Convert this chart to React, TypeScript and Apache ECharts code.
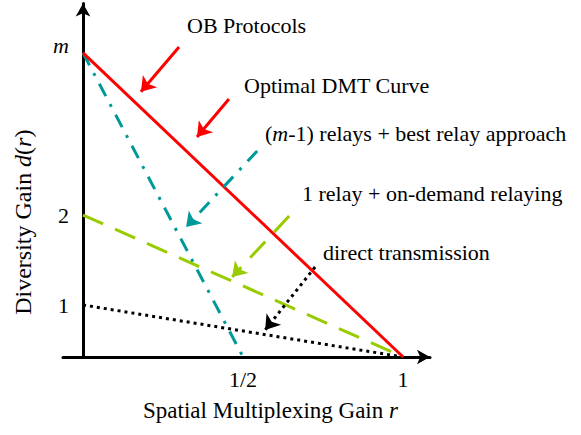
import React, { useEffect, useRef } from "react";
import * as echarts from "echarts";

// Schematic DMT diagram values (y positions of the labelled levels on the drawn scale)
const yLevelValues = [1, 2.73, 5.85];
const yLevelLabels = ["1", "2", "{mi|m}"];
const xTickValues = [0.5, 1];
const xTickLabels = ["1/2", "1"];

const M = 5.85;
const TWO = 2.73;
const ONE = 1;

const optimalCurve = [[0, M], [1, 0]];
const bestRelayCurve = [[0, M], [0.5, 0]];
const onDemandCurve = [[0, TWO], [1, 0]];
const directCurve = [[0, ONE], [1, 0]];

// annotation arrows: [tail, tip] in data units
const arrowOB = [[0.3, 5.96], [0.181, 5.1]];
const arrowDMT = [[0.456, 4.96], [0.356, 4.23]];
const arrowBest = [[0.544, 3.96], [0.322, 2.5]];
const arrowOnDemand = [[0.644, 2.71], [0.466, 1.54]];
const arrowDirect = [[0.725, 1.73], [0.569, 0.52]];

const FONT = "Liberation Serif";
const FS = 22;
const RED = "#ff0000";
const TEAL = "#009999";
const GREEN = "#99cc00";
const BLACK = "#000000";
const DASHDOT = [14, 9, 3, 9];
const DASH = [22, 13];
const DOT = [3, 4];

export default function App() {
  const ref = useRef<HTMLDivElement>(null);
  useEffect(() => {
    if (!ref.current) return;
    const chart = echarts.init(ref.current, null, { renderer: "svg" });
    const rich = {
      i: { fontStyle: "italic", fontFamily: FONT, fontSize: FS, color: BLACK },
      mi: { fontStyle: "italic", fontFamily: FONT, fontSize: FS, color: BLACK, padding: [0, 0, 14, 0] },
    };
    const richX = { i: { fontStyle: "italic", fontFamily: FONT, fontSize: 23, color: BLACK } };
    const richY = { i: { fontStyle: "italic", fontFamily: FONT, fontSize: 24, color: BLACK } };
    const curve = (data: number[][], color: string, type: any) => ({
      type: "line",
      data,
      showSymbol: false,
      symbol: "none",
      lineStyle: { color, width: 3, type },
      z: 3,
    });
    const arrow = (pts: number[][], color: string, type: any) => ({
      type: "lines",
      coordinateSystem: "cartesian2d",
      symbol: ["none", "arrow"],
      symbolSize: 14,
      data: [{ coords: pts }],
      lineStyle: { color, width: 3, type, opacity: 1 },
      z: 4,
    });
    const text = (x: number, y: number, s: string) => ({
      type: "text",
      left: x,
      top: y - 13,
      style: { text: s, fontFamily: FONT, fontSize: FS, fill: BLACK, rich },
    });
    chart.setOption({
      animation: false,
      grid: { left: 63, right: 151, top: 3.4, bottom: 78, outerBoundsMode: "none" },
      xAxis: {
        type: "value",
        min: -0.0625,
        max: 1.084,
        splitLine: { show: false },
        axisTick: { show: false },
        axisLine: { lineStyle: { color: BLACK, width: 3 }, symbol: ["none", "arrow"], symbolSize: [11, 13] },
        axisLabel: {
          customValues: xTickValues,
          formatter: (v: number) => xTickLabels[xTickValues.indexOf(v)] ?? "",
          fontFamily: FONT,
          fontSize: FS,
          color: BLACK,
          margin: 11,
        },
        name: "Spatial Multiplexing Gain {i|r}",
        nameLocation: "middle",
        nameGap: 42,
        nameTextStyle: { fontFamily: FONT, fontSize: 23, color: BLACK, rich: richX, padding: [0, 0, 0, 48] },
      },
      yAxis: {
        type: "value",
        min: 0,
        max: 6.8,
        offset: -20,
        splitLine: { show: false },
        axisTick: { show: false },
        axisLine: { onZero: false, lineStyle: { color: BLACK, width: 3 }, symbol: ["none", "arrow"], symbolSize: [11, 13] },
        axisLabel: {
          customValues: yLevelValues,
          formatter: (v: number) => yLevelLabels[yLevelValues.indexOf(v)] ?? "",
          fontFamily: FONT,
          fontSize: FS,
          color: BLACK,
          margin: 14,
          rich,
        },
        name: "Diversity Gain {i|d}({i|r})",
        nameLocation: "middle",
        nameGap: 48,
        nameTextStyle: { fontFamily: FONT, fontSize: 24, color: BLACK, rich: richY, padding: [0, 84, 0, 0] },
      },
      series: [
        curve(directCurve, BLACK, DOT),
        curve(onDemandCurve, GREEN, DASH),
        curve(bestRelayCurve, TEAL, DASHDOT),
        curve(optimalCurve, RED, "solid"),
        arrow(arrowOB, RED, "solid"),
        arrow(arrowDMT, RED, "solid"),
        arrow(arrowBest, TEAL, DASHDOT),
        arrow(arrowOnDemand, GREEN, DASH),
        arrow(arrowDirect, BLACK, DOT),
      ],
      graphic: [
        text(187, 27, "OB Protocols"),
        text(244, 87, "Optimal DMT Curve"),
        text(265, 135, "({i|m}-1) relays + best relay approach"),
        text(302, 195, "1 relay + on-demand relaying"),
        text(323, 254, "direct transmission"),
      ],
    });
    return () => chart.dispose();
  }, []);
  return (
    <div
      ref={ref}
      style={{ position: "fixed", left: 0, top: 0, width: 581, height: 435, background: "#fff" }}
    />
  );
}
